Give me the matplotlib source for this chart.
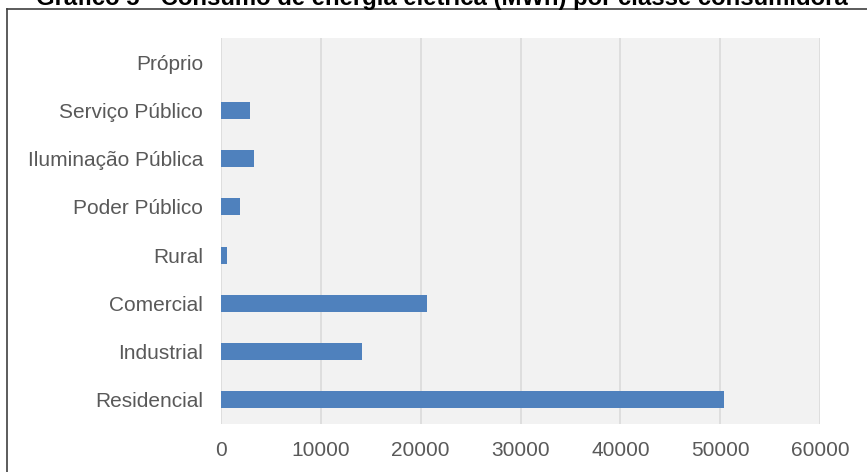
import matplotlib.pyplot as plt
from matplotlib.lines import Line2D

# Dados do gráfico (MWh)
categorias = ["Residencial", "Industrial", "Comercial", "Rural",
              "Poder Público", "Iluminação Pública", "Serviço Público", "Próprio"]
consumo = [50400, 14100, 20650, 650, 1900, 3330, 2930, 0]
ticks_x = [0, 10000, 20000, 30000, 40000, 50000, 60000]
titulo = "Gráfico 5 - Consumo de energia elétrica (MWh) por classe consumidora"

W, H = 867, 472
plt.rcParams["font.family"] = ["Liberation Sans", "DejaVu Sans"]

fig = plt.figure(figsize=(W / 100, H / 100), dpi=100)

# Posição da área do gráfico em pixels
left, right, top, bottom = 221, 820, 38, 424
ax = fig.add_axes([left / W, 1 - bottom / H, (right - left) / W, (bottom - top) / H])
ax.set_facecolor("#f2f2f2")

y = list(range(len(categorias)))
ax.barh(y, consumo, height=0.35, color="#4f81bd", zorder=3)

ax.set_xlim(0, 60000)
ax.set_ylim(-0.5, len(categorias) - 0.5)
ax.set_xticks(ticks_x)
ax.set_xticklabels([str(t) for t in ticks_x])
ax.set_yticks(y)
ax.set_yticklabels(categorias)

ax.xaxis.grid(True, color="#d9d9d9", linewidth=1.1, zorder=0)
ax.set_axisbelow(True)
for s in ax.spines.values():
    s.set_visible(False)

ax.tick_params(axis="both", length=0, labelsize=15, colors="#595959")
ax.tick_params(axis="y", pad=13)
ax.tick_params(axis="x", pad=12)

# Moldura (apenas topo e esquerda visíveis)
fig.add_artist(Line2D([7 / W, 7 / W], [0, 1 - 9 / H], transform=fig.transFigure,
                      color="#404040", linewidth=1.2))
fig.add_artist(Line2D([7 / W, 1], [1 - 9 / H, 1 - 9 / H], transform=fig.transFigure,
                      color="#404040", linewidth=1.2))

# Título (cortado no topo)
fig.text(442 / W, 1 - 5 / H, titulo, ha="center", va="baseline",
         fontsize=17.2, fontweight="bold", color="black")

fig.savefig("out.png", dpi=100)
